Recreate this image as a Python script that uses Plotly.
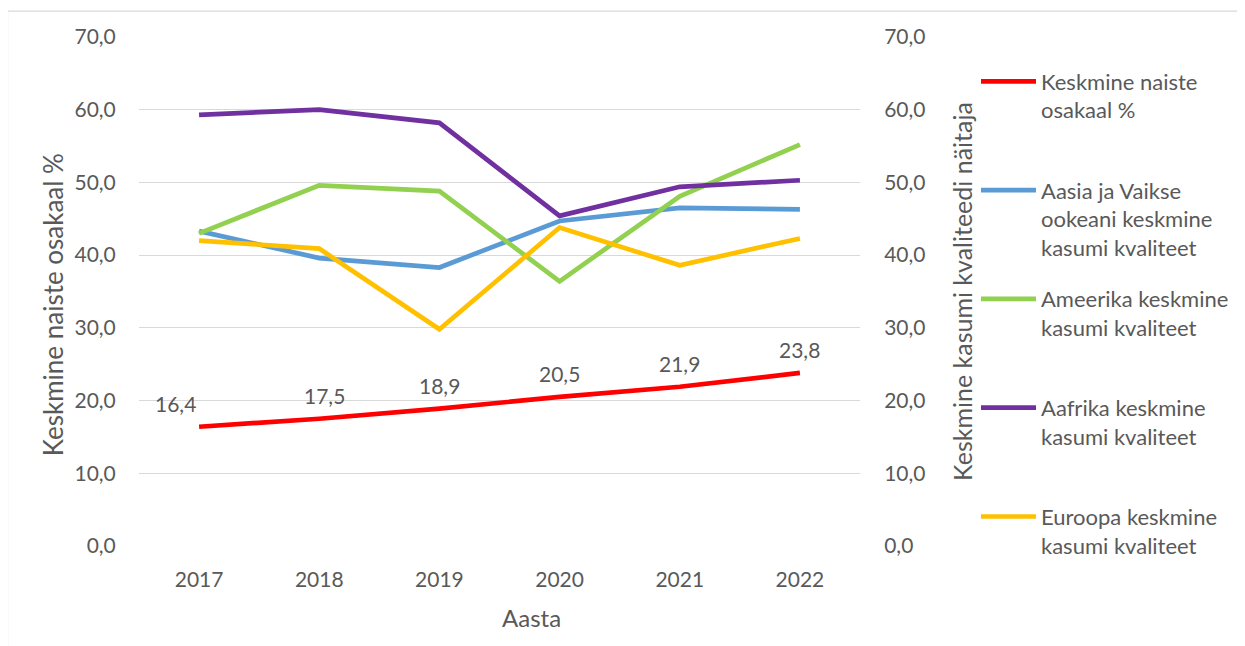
import plotly.graph_objects as go

years = ["2017", "2018", "2019", "2020", "2021", "2022"]
naiste_osakaal = [16.4, 17.5, 18.9, 20.5, 21.9, 23.8]
aasia = [43.3, 39.6, 38.3, 44.7, 46.5, 46.3]
ameerika = [43.0, 49.6, 48.8, 36.4, 48.1, 55.2]
aafrika = [59.3, 60.0, 58.2, 45.4, 49.4, 50.3]
euroopa = [42.0, 40.9, 29.8, 43.8, 38.6, 42.3]

names = [
    "Keskmine naiste<br>osakaal %<br> ",
    "Aasia ja Vaikse<br>ookeani keskmine<br>kasumi kvaliteet",
    "Ameerika keskmine<br>kasumi kvaliteet<br> ",
    "Aafrika keskmine<br>kasumi kvaliteet<br> ",
    "Euroopa keskmine<br>kasumi kvaliteet",
]
colors = ["#FF0000", "#5B9BD5", "#92D050", "#7030A0", "#FFC000"]
label_xshift = [-24, 5, 0, 0, 0, 0]

FONT = "Lato"
TXT = "#595959"
GRID = "#D9D9D9"

# page body has an 8px default margin; positions below are screen pixels
OFF = 8
W, H = 1245, 646
L, R, T, B = 139, 860, 36.5, 546
pw, ph = R - L, B - T

fig = go.Figure()
fig.add_trace(go.Scatter(
    x=years, y=naiste_osakaal, name=names[0], mode="lines",
    line=dict(color=colors[0], width=4.7),
    legendgroup="g0", yaxis="y",
))
for i, (vals, nm, c) in enumerate(zip([aasia, ameerika, aafrika, euroopa], names[1:], colors[1:])):
    fig.add_trace(go.Scatter(
        x=years, y=vals, name=nm, mode="lines",
        line=dict(color=c, width=4.7),
        legendgroup=f"g{i+1}", yaxis="y2",
    ))


def px_x(p):
    return (p - L) / pw


def px_y(p):
    return 1 - (p - T) / ph


annotations = []
for idx, (v, dx) in enumerate(zip(naiste_osakaal, label_xshift)):
    annotations.append(dict(
        x=idx, y=v, xref="x", yref="y", text=f"{v:.1f}".replace(".", ","),
        showarrow=False, yshift=23, xshift=dx,
        font=dict(family=FONT, size=21, color=TXT),
    ))
annotations.append(dict(
    x=px_x(531.5), y=px_y(618), xref="paper", yref="paper", text="Aasta",
    showarrow=False, xanchor="center", yanchor="middle",
    font=dict(family=FONT, size=24, color=TXT),
))
annotations.append(dict(
    x=px_x(53), y=px_y(305), xref="paper", yref="paper",
    text="Keskmine naiste osakaal %", textangle=-90,
    showarrow=False, xanchor="center", yanchor="middle",
    font=dict(family=FONT, size=26, color=TXT),
))

fig.update_layout(
    width=W, height=H,
    margin=dict(l=L - OFF, r=W - (R - OFF), t=T - OFF, b=H - (B - OFF), pad=0, autoexpand=False),
    paper_bgcolor="white", plot_bgcolor="white",
    separators=", ",
    font=dict(family=FONT, size=20, color=TXT),
    xaxis=dict(
        type="category", range=[-0.5, 5.5], showgrid=False, showline=False,
        zeroline=False, ticks="outside", ticklen=15, tickcolor="rgba(0,0,0,0)",
        tickfont=dict(family=FONT, size=21, color=TXT),
        automargin=False,
    ),
    yaxis=dict(
        range=[0, 70], dtick=10, tickformat=".1f", showgrid=True, gridcolor=GRID,
        gridwidth=1.3, zeroline=False, showline=False, ticks="outside", ticklen=18,
        tickcolor="rgba(0,0,0,0)",
        tickfont=dict(family=FONT, size=21, color=TXT),
        automargin=False,
    ),
    yaxis2=dict(
        range=[0, 70], dtick=10, tickformat=".1f", overlaying="y", side="right",
        showgrid=False, zeroline=False, showline=False, ticks="outside", ticklen=19,
        tickcolor="rgba(0,0,0,0)",
        tickfont=dict(family=FONT, size=21, color=TXT),
        title=dict(text="Keskmine kasumi kvaliteedi näitaja", font=dict(family=FONT, size=25, color=TXT), standoff=29),
        automargin=False,
    ),
    legend=dict(
        x=px_x(976), xanchor="left", y=px_y(60), yanchor="top",
        font=dict(family=FONT, size=22, color=TXT),
        valign="top", tracegroupgap=20, itemwidth=55, bgcolor="rgba(0,0,0,0)",
        maxheight=640,
    ),
    showlegend=True,
    annotations=annotations,
    shapes=[dict(
        type="rect", xref="paper", yref="paper",
        x0=px_x(7.5), x1=px_x(1260), y0=px_y(10.5), y1=px_y(660),
        line=dict(color="#D9D9D9", width=1.3), fillcolor="rgba(0,0,0,0)", layer="below",
    )],
)

fig.write_html("out.html")
